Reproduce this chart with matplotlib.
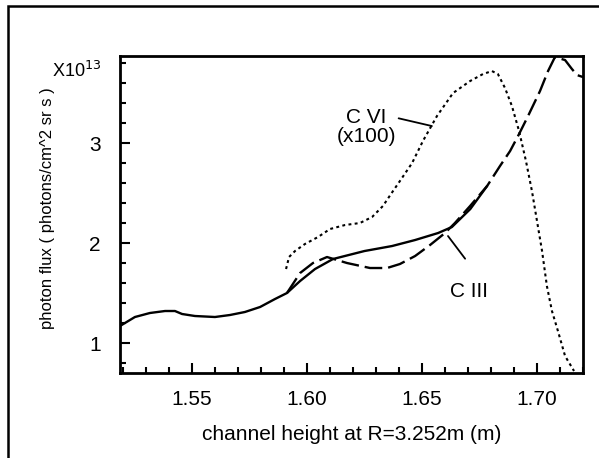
import matplotlib
matplotlib.use("Agg")
import matplotlib.pyplot as plt
from matplotlib.ticker import MultipleLocator
from matplotlib.patches import Rectangle

plt.rcParams["font.family"] = ["Liberation Sans", "DejaVu Sans"]

# solid C III profile
solid_x = [1.5187, 1.5252, 1.5317, 1.5383, 1.5426, 1.5457, 1.5513, 1.5600, 1.5665,
           1.5730, 1.5796, 1.5861, 1.5913, 1.5970, 1.6035, 1.6113, 1.6250, 1.6370,
           1.6470, 1.6570, 1.6630, 1.6710, 1.6783]
solid_y = [1.17, 1.26, 1.30, 1.32, 1.32, 1.29, 1.27, 1.26, 1.28,
           1.31, 1.36, 1.44, 1.50, 1.62, 1.74, 1.84, 1.92, 1.97,
           2.03, 2.10, 2.16, 2.34, 2.57]

# dashed C III profile
dash_x = [1.5913, 1.5970, 1.6026, 1.6087, 1.6174, 1.6274, 1.6348, 1.6404, 1.6470,
          1.6535, 1.6600, 1.6643, 1.6709, 1.6783, 1.6839, 1.6883, 1.6922, 1.6961,
          1.7013, 1.7048, 1.7078, 1.7122, 1.7152, 1.7174, 1.7200]
dash_y = [1.50, 1.70, 1.80, 1.86, 1.80, 1.75, 1.75, 1.79, 1.87,
          1.98, 2.10, 2.20, 2.37, 2.57, 2.77, 2.92, 3.09, 3.27,
          3.52, 3.72, 3.86, 3.83, 3.74, 3.68, 3.66]

# dotted C VI profile (x100)
dot_x = [1.5909, 1.5922, 1.5948, 1.5991, 1.6048, 1.6100, 1.6165, 1.6230, 1.6283,
         1.6330, 1.6374, 1.6404, 1.6457, 1.6504, 1.6565, 1.6635, 1.6709, 1.6765,
         1.6804, 1.6830, 1.6861, 1.6891, 1.6922, 1.6952, 1.6978, 1.7000, 1.7022,
         1.7043, 1.7065, 1.7091, 1.7122, 1.7161]
dot_y = [1.74, 1.86, 1.92, 1.99, 2.06, 2.14, 2.18, 2.20, 2.26,
         2.37, 2.52, 2.62, 2.80, 3.02, 3.27, 3.50, 3.62, 3.69,
         3.72, 3.69, 3.55, 3.37, 3.12, 2.82, 2.52, 2.22, 1.92,
         1.57, 1.32, 1.12, 0.87, 0.72]

fig = plt.figure(figsize=(5.99, 4.58), dpi=100)
ax = fig.add_axes([0.2003, 0.1856, 0.773, 0.692])

ax.plot(solid_x, solid_y, color="black", linewidth=1.7, solid_capstyle="round")
ax.plot(dash_x, dash_y, color="black", linewidth=1.7, dashes=(7.5, 2.5))
ax.plot(dot_x, dot_y, color="black", linewidth=1.5, dashes=(1.4, 1.6))

ax.set_xlim(1.5187, 1.72)
ax.set_ylim(0.70, 3.87)

ax.xaxis.set_minor_locator(MultipleLocator(0.01))
ax.yaxis.set_minor_locator(MultipleLocator(0.2))
ax.set_xticks([1.55, 1.60, 1.65, 1.70])
ax.set_xticklabels(["1.55", "1.60", "1.65", "1.70"])
ax.set_yticks([1, 2, 3])
ax.set_yticklabels(["1", "2", "3"])

ax.tick_params(which="both", direction="in", top=False, right=False, width=1.5)
ax.tick_params(which="major", length=7, labelsize=15, pad=12)
ax.tick_params(axis="y", which="major", pad=14)
ax.tick_params(which="minor", length=4)
for s in ax.spines.values():
    s.set_linewidth(2)

ax.set_xlabel("channel height at R=3.252m (m)", fontsize=15)
ax.xaxis.set_label_coords(0.5, -0.165)
ax.set_ylabel("photon flux ( photons/cm^2 sr s )", fontsize=12)
ax.yaxis.set_label_coords(-0.14, 0.52)

fig.text(0.128, 0.845, r"X10$^{13}$", fontsize=13, ha="center", va="center")

# annotations
ax.annotate("C VI\n(x100)", xy=(1.6543, 3.17), xytext=(1.6257, 3.16),
            fontsize=15, ha="center", va="center", linespacing=0.95,
            arrowprops=dict(arrowstyle="-", color="black", lw=1.3,
                            shrinkA=0, shrinkB=0, relpos=(0.87, 0.8)))
ax.annotate("C III", xy=(1.6613, 2.07), xytext=(1.6704, 1.52),
            fontsize=15, ha="center", va="center",
            arrowprops=dict(arrowstyle="-", color="black", lw=1.3,
                            shrinkA=0, shrinkB=0, relpos=(0.4, 2.2)))

# outer frame of the scanned figure
fig.patches.append(Rectangle((8 / 599, -0.05), 1.1, 1 - 6 / 458 + 0.05,
                             transform=fig.transFigure, fill=False,
                             edgecolor="black", linewidth=1.8))

fig.savefig("out.png", dpi=100)
